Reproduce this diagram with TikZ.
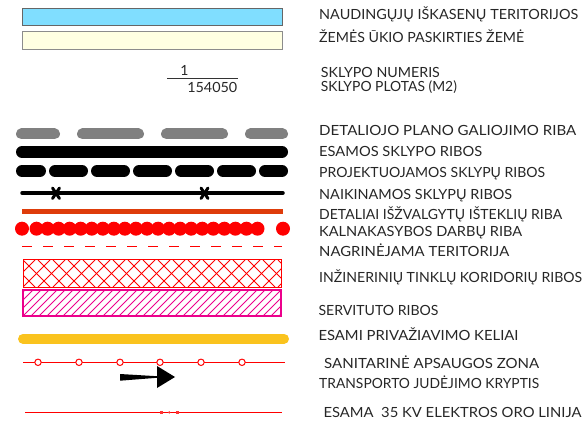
\documentclass[tikz,border=0pt]{standalone}
\usepackage{fontspec}
\setmainfont{Lato}
\newcommand{\fitlab}[2]{\resizebox{#1pt}{\height}{#2}}
\definecolor{skyfill}{RGB}{128,222,255}
\definecolor{creamfill}{RGB}{255,255,226}
\definecolor{galgray}{RGB}{128,128,128}
\definecolor{orred}{RGB}{222,60,10}
\definecolor{roadyel}{RGB}{250,195,30}
\begin{document}
\begin{tikzpicture}[x=1pt,y=-1pt,
  lab/.style={anchor=base west, inner sep=0pt, font=\fontsize{14}{16}\selectfont, text=black!85},
  galdash/.style={line width=11pt, line cap=round, draw=galgray},
  blkbar/.style={line width=12pt, line cap=round, draw=black},
  thinblk/.style={line width=3.5pt, line cap=round, draw=black},
  xmark/.style={line width=3pt, line cap=round, draw=black},
  redline/.style={line width=1pt, draw=red}]
\useasboundingbox (0,0) rectangle (588,427);

% coloured areas
\draw[fill=skyfill, draw=black!60, line width=0.6pt] (22,8) rectangle (282,25);
\draw[fill=creamfill, draw=black!45, line width=0.6pt] (22,31) rectangle (282,49);

% plot number fraction
\node[lab, anchor=base] (num) at (184.5,76) {1};
\node[lab, anchor=base east] (area) at (237.5,93) {\fitlab{50}{154050}};
\coordinate (fl) at (167,78.5);
\coordinate (fr) at (237.5,78.5);
\draw[line width=0.8pt, black!80] (fl) -- (fr);

% plan validity boundary (grey dashes)
\foreach \a/\b in {21.5/54.5, 82.5/138.5, 166.5/222.5, 250.5/282.5}
  \draw[galdash] (\a,134) -- (\b,134);

% existing plot boundaries
\draw[blkbar] (22,152) -- (282,152);

% projected plot boundaries
\foreach \a/\b in {22/40, 55/82, 97/124, 139/166, 181/208, 223/250, 265/282}
  \draw[blkbar] (\a,171) -- (\b,171);

% removed plot boundaries
\draw[thinblk] (22,193) -- (283,193);
\foreach \c in {56,204.5}{
  \draw[xmark] (\c-3.5,188) -- (\c+3.5,198.5);
  \draw[xmark] (\c+3.5,188) -- (\c-3.5,198.5);
}

% explored resources boundary
\fill[orred] (22,209) rectangle (283,214.5);

% mining works boundary
\fill[red] (22,228.7) circle (7);
\fill[red] (283,228.7) circle (7);
\foreach \i in {0,...,20}
  \fill[red] ({36.5+\i*11.05},228.7) circle (7);

% examined territory
\draw[red, line width=1pt, dash pattern=on 10pt off 11pt] (22,247) -- (282,247);

% engineering corridors
\begin{scope}
  \clip (23,260) rectangle (281,287);
  \foreach \k in {-3,...,20}{
    \draw[red, line width=0.8pt] ({23+\k*15},260) -- ({23+\k*15+27},287);
    \draw[red, line width=0.8pt] ({23+\k*15+27},260) -- ({23+\k*15},287);
  }
\end{scope}
\draw[red, line width=1pt] (23,260) rectangle (281,287);

% servitude
\begin{scope}
  \clip (23,290) rectangle (281,316);
  \foreach \k in {-4,...,34}
    \draw[magenta, line width=1pt] ({23+\k*8},316) -- ({23+\k*8+26},290);
\end{scope}
\draw[magenta, line width=1.2pt] (23,290) rectangle (281,316);

% access roads
\draw[line width=10pt, line cap=round, draw=roadyel] (23,338.7) -- (284,338.7);

% sanitary protection zone
\draw[redline] (23,362.3) -- (285,362.3);
\foreach \c in {38,79,120,160,201,242}
  \draw[red, line width=1pt, fill=white] (\c,362.3) circle (3.2);

% transport direction
\fill[black] (120,374) -- (157,376.2) -- (157,377.8) -- (120,380.7) -- cycle;
\fill[black] (157,366) -- (175,377) -- (157,388) -- cycle;

% 35 kV line
\draw[redline] (25,412.3) -- (282,412.3);
\fill[red!80] (159.5,411.2) rectangle (163,413.6);
\fill[red!80] (169.3,412.4) circle (1.3);
\fill[red!80] (175.5,411.2) rectangle (179,413.6);

% labels
\node[lab] (t1) at (319,20) {\fitlab{259}{NAUDINGŲJŲ IŠKASENŲ TERITORIJOS}};
\node[lab] (t2) at (319,43) {\fitlab{205}{ŽEMĖS ŪKIO PASKIRTIES ŽEMĖ}};
\node[lab] (t3) at (320.7,78) {\fitlab{119}{SKLYPO NUMERIS}};
\node[lab] (t4) at (320.7,92) {\fitlab{136}{SKLYPO PLOTAS (M2)}};
\node[lab] (t5) at (319,136) {\fitlab{257}{DETALIOJO PLANO GALIOJIMO RIBA}};
\node[lab] (t6) at (319,157) {\fitlab{163}{ESAMOS SKLYPO RIBOS}};
\node[lab] (t7) at (319,178) {\fitlab{226}{PROJEKTUOJAMOS SKLYPŲ RIBOS}};
\node[lab] (t8) at (319,200) {\fitlab{193}{NAIKINAMOS SKLYPŲ RIBOS}};
\node[lab] (t9) at (319,220) {\fitlab{243}{DETALIAI IŠŽVALGYTŲ IŠTEKLIŲ RIBA}};
\node[lab] (t10) at (319,237) {\fitlab{203}{KALNAKASYBOS DARBŲ RIBA}};
\node[lab] (t11) at (319,257) {\fitlab{190}{NAGRINĖJAMA TERITORIJA}};
\node[lab] (t12) at (319,283) {\fitlab{263}{INŽINERINIŲ TINKLŲ KORIDORIŲ RIBOS}};
\node[lab] (t13) at (318.3,315) {\fitlab{120}{SERVITUTO RIBOS}};
\node[lab] (t14) at (318.3,340) {\fitlab{200}{ESAMI PRIVAŽIAVIMO KELIAI}};
\node[lab] (t15) at (324,368) {\fitlab{215}{SANITARINĖ APSAUGOS ZONA}};
\node[lab] (t16) at (319,388) {\fitlab{220}{TRANSPORTO JUDĖJIMO KRYPTIS}};
\node[lab] (t17) at (323.3,417) {\fitlab{258}{ESAMA\ \ 35 KV ELEKTROS ORO LINIJA}};
\end{tikzpicture}
\end{document}
